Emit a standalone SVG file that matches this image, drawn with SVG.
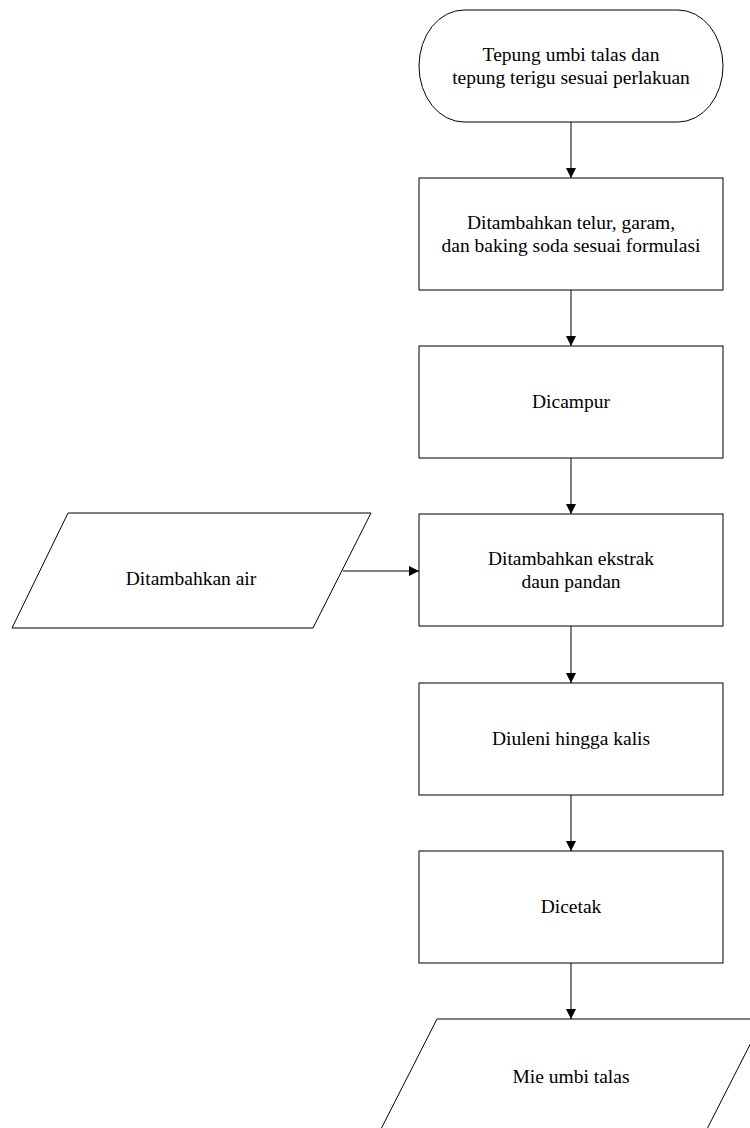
<svg xmlns="http://www.w3.org/2000/svg" width="750" height="1128" viewBox="0 0 750 1128">
<style>
.s{fill:#fff;stroke:#000;stroke-width:1}
.t{font-size:19.5px;fill:#000;text-anchor:middle}
.c{stroke:#000;stroke-width:1;fill:none;marker-end:url(#ah)}
</style>
<defs>
<marker id="ah" markerUnits="userSpaceOnUse" markerWidth="12" markerHeight="12" viewBox="0 0 12 12" refX="10" refY="6" orient="auto">
<path d="M0,1 L10,6 L0,11 Z" fill="#000"/>
</marker>
</defs>
<rect width="750" height="1128" fill="#fff"/>
<g id="connectors">
<line class="c" x1="571" y1="122" x2="571" y2="178"/>
<line class="c" x1="571" y1="290" x2="571" y2="346"/>
<line class="c" x1="571" y1="458" x2="571" y2="514"/>
<line class="c" x1="571" y1="626" x2="571" y2="683"/>
<line class="c" x1="571" y1="795" x2="571" y2="851"/>
<line class="c" x1="571" y1="963" x2="571" y2="1019"/>
<line class="c" x1="343" y1="571" x2="419" y2="571"/>
</g>
<g id="start">
<rect class="s" x="419" y="10" width="304" height="112" rx="45" ry="56"/>
<text class="t" font-family="Liberation Serif" x="571" y="61">Tepung umbi talas dan</text>
<text class="t" font-family="Liberation Serif" x="571" y="84">tepung terigu sesuai perlakuan</text>
</g>
<g id="step1">
<rect class="s" x="419" y="178" width="304" height="112"/>
<text class="t" font-family="Liberation Serif" x="571" y="229">Ditambahkan telur, garam,</text>
<text class="t" font-family="Liberation Serif" x="571" y="252">dan baking soda sesuai formulasi</text>
</g>
<g id="step2">
<rect class="s" x="419" y="346" width="304" height="112"/>
<text class="t" font-family="Liberation Serif" x="571" y="408">Dicampur</text>
</g>
<g id="step3">
<rect class="s" x="419" y="514" width="304" height="112"/>
<text class="t" font-family="Liberation Serif" x="571" y="565">Ditambahkan ekstrak</text>
<text class="t" font-family="Liberation Serif" x="571" y="588">daun pandan</text>
</g>
<g id="input-air">
<polygon class="s" points="68,513 371,513 313,628 12,628"/>
<text class="t" font-family="Liberation Serif" x="191" y="585">Ditambahkan air</text>
</g>
<g id="step4">
<rect class="s" x="419" y="683" width="304" height="112"/>
<text class="t" font-family="Liberation Serif" x="571" y="745">Diuleni hingga kalis</text>
</g>
<g id="step5">
<rect class="s" x="419" y="851" width="304" height="112"/>
<text class="t" font-family="Liberation Serif" x="571" y="913">Dicetak</text>
</g>
<g id="output">
<polygon class="s" points="437,1019 763,1019 706,1131 380,1131"/>
<text class="t" font-family="Liberation Serif" x="571" y="1083">Mie umbi talas</text>
</g>
</svg>
